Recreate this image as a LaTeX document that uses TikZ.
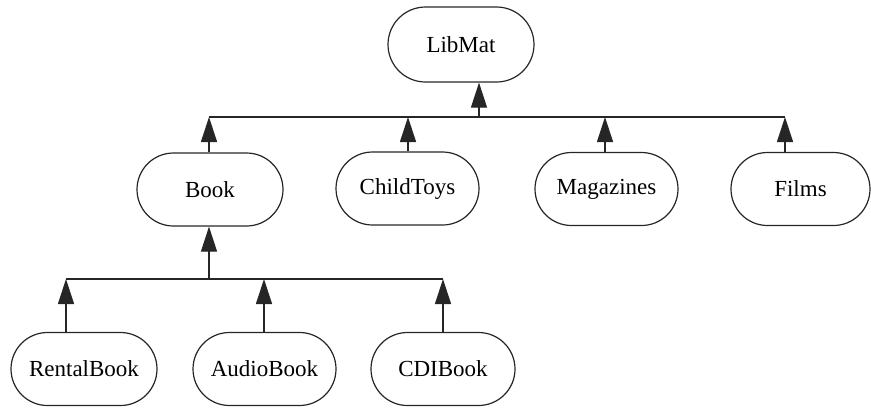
\documentclass[tikz,border=0pt]{standalone}
\usepackage{fontspec}
\setmainfont{Liberation Serif}
\usetikzlibrary{shapes.misc,arrows.meta}
\begin{document}
\begin{tikzpicture}[x=1pt,y=-1pt,
  cls/.style={rounded rectangle, draw=black!85, line width=1.2pt, minimum height=73pt, inner sep=0pt,
    font=\fontsize{23}{27}\selectfont},
  link/.style={draw=black!85, line width=1.2pt},
  arr/.style={link, -{Triangle[length=25pt,width=16pt]}}]
\useasboundingbox (0,0) rectangle (871,408);
\node[cls, minimum width=146pt, minimum height=75pt] (LibMat) at (461,44.5) {LibMat};
\node[cls, minimum width=146pt] (Book) at (210,189.5) {Book};
\node[cls, minimum width=143pt] (ChildToys) at (407.5,188.5) {ChildToys};
\node[cls, minimum width=143pt] (Magazines) at (606.5,189) {Magazines};
\node[cls, minimum width=139pt] (Films) at (800.5,189) {Films};
\node[cls, minimum width=146pt] (RentalBook) at (84,369) {RentalBook};
\node[cls, minimum width=143pt] (AudioBook) at (264.5,369) {AudioBook};
\node[cls, minimum width=144pt] (CDIBook) at (443,369) {CDIBook};
% top bus
\coordinate (tL) at (479,117);
\coordinate (tB) at (209,117);
\coordinate (tC) at (408,117);
\coordinate (tM) at (605,117);
\coordinate (tF) at (785,117);
\draw[link] (tB) -- (tF);
\draw[arr] (tL) -- (tL |- LibMat.south);
\draw[arr] (tB |- Book.north) -- (tB);
\draw[arr] (tC |- ChildToys.north) -- (tC);
\draw[arr] (tM |- Magazines.north) -- (tM);
\draw[arr] (tF |- Films.north) -- (tF);
% bottom bus
\coordinate (bB) at (209,279);
\coordinate (bR) at (66,279);
\coordinate (bA) at (264,279);
\coordinate (bD) at (443,279);
\draw[link] (bR) -- (bD);
\draw[arr] (bB) -- (bB |- Book.south);
\draw[arr] (bR |- RentalBook.north) -- (bR);
\draw[arr] (bA |- AudioBook.north) -- (bA);
\draw[arr] (bD |- CDIBook.north) -- (bD);
\end{tikzpicture}
\end{document}
